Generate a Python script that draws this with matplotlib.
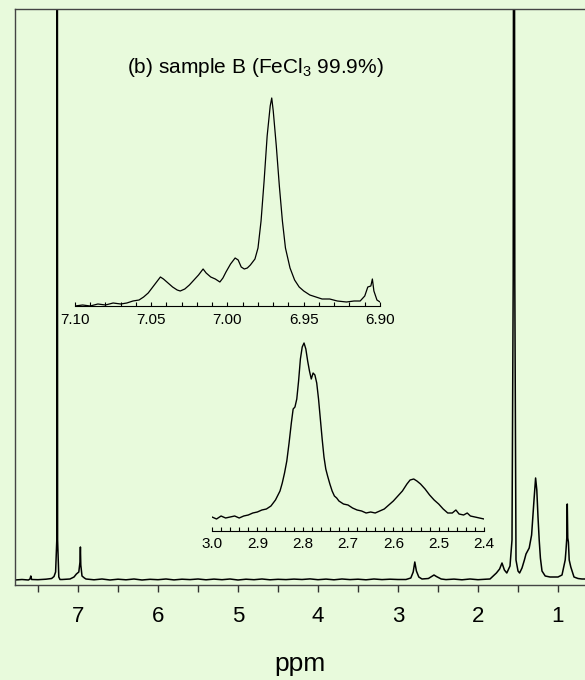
import numpy as np
import matplotlib.pyplot as plt

plt.rcParams['font.family'] = ['Liberation Sans', 'DejaVu Sans']
plt.rcParams['mathtext.default'] = 'regular'

# ------------------------------------------------------------
# data (intensity in arbitrary units)
# ------------------------------------------------------------
main_ppm = [7.79, 7.70, 7.62, 7.60, 7.59, 7.58, 7.50, 7.40, 7.33, 7.30, 7.28,
            7.265, 7.26, 7.255, 7.24, 7.225, 7.20, 7.10, 7.05, 7.02, 6.99,
            6.975, 6.97, 6.965, 6.95, 6.92, 6.90, 6.80, 6.70, 6.60, 6.50,
            6.40, 6.30, 6.20, 6.10, 6.00, 5.90, 5.80, 5.70, 5.60, 5.50,
            5.40, 5.30, 5.20, 5.10, 5.00, 4.90, 4.80, 4.70, 4.60, 4.50,
            4.40, 4.30, 4.20, 4.10, 4.00, 3.90, 3.80, 3.70, 3.60, 3.50,
            3.40, 3.30, 3.20, 3.10, 3.00, 2.90, 2.84, 2.81, 2.79, 2.77,
            2.74, 2.70, 2.62, 2.58, 2.55, 2.52, 2.46, 2.40, 2.30, 2.20,
            2.10, 2.00, 1.90, 1.85, 1.77, 1.73, 1.70, 1.67, 1.64, 1.60,
            1.575, 1.56, 1.55, 1.54, 1.525, 1.50, 1.48, 1.45, 1.42, 1.40,
            1.36, 1.33, 1.30, 1.28, 1.265, 1.25, 1.235, 1.22, 1.20, 1.16,
            1.10, 1.00, 0.95, 0.91, 0.90, 0.89, 0.884, 0.878, 0.87, 0.86,
            0.84, 0.80, 0.75, 0.70, 0.66]
main_int = [0.0, 0.5, 0.0, 1.0, 4.0, 0.5, 0.3, 0.8, 1.5, 3.5, 8.0,
            40.0, 1200.0, 40.0, 3.0, 0.5, 0.5, 1.0, 3.0, 6.0, 8.0,
            18.0, 33.0, 15.0, 4.0, 2.0, 1.0, 0.2, 1.0, 0.0, 0.8,
            0.2, 1.0, 0.0, 0.7, 0.3, 1.0, 0.1, 0.8, 0.4, 1.0,
            0.2, 0.9, 0.3, 1.0, 0.0, 0.8, 0.3, 1.0, 0.2, 0.7,
            0.4, 0.9, 0.5, 1.1, 0.3, 0.9, 0.2, 1.0, 0.4, 0.8,
            0.2, 1.0, 0.4, 0.8, 0.5, 0.5, 2.0, 8.0, 18.0, 9.0,
            3.0, 1.0, 1.5, 3.5, 5.0, 3.5, 1.0, 0.4, 0.9, 0.2,
            1.0, 0.3, 0.8, 1.0, 7.0, 11.0, 17.0, 10.0, 7.0, 14.0,
            40.0, 300.0, 1200.0, 300.0, 20.0, 9.0, 7.0, 12.0, 20.0, 26.0,
            32.0, 45.0, 80.0, 102.0, 90.0, 63.0, 40.0, 22.0, 9.0, 4.0,
            3.0, 3.0, 5.0, 20.0, 30.0, 42.0, 76.0, 42.0, 38.0, 20.0,
            13.0, 3.0, 1.5, 1.0, 1.0]

ins1_ppm = [7.100, 7.095, 7.090, 7.085, 7.080, 7.075, 7.070, 7.066, 7.062,
            7.058, 7.055, 7.052, 7.049, 7.046, 7.044, 7.042, 7.039, 7.036,
            7.033, 7.031, 7.028, 7.025, 7.022, 7.019, 7.016, 7.014, 7.011,
            7.008, 7.005, 7.003, 7.001, 6.998, 6.995, 6.993, 6.991, 6.989,
            6.987, 6.985, 6.982, 6.980, 6.978, 6.976, 6.974, 6.972, 6.971,
            6.970, 6.968, 6.966, 6.964, 6.962, 6.959, 6.956, 6.953, 6.950,
            6.946, 6.942, 6.938, 6.933, 6.928, 6.922, 6.917, 6.913, 6.910,
            6.908, 6.906, 6.905, 6.904, 6.902, 6.900]
ins1_int = [0, 1, 0, 2, 1, 3, 2, 3, 5, 6, 9, 13, 19, 25, 29, 27, 23, 19,
            16, 15, 17, 21, 26, 31, 37, 33, 29, 27, 24, 28, 34, 42, 48, 46,
            39, 37, 38, 41, 47, 58, 85, 125, 170, 200, 208, 195, 160, 120,
            85, 58, 38, 26, 19, 15, 11, 9, 7, 7, 5, 4, 5, 5, 10, 19, 20,
            27, 15, 6, 4]

ins2_ppm = [3.000, 2.990, 2.980, 2.970, 2.960, 2.950, 2.940, 2.930, 2.920,
            2.910, 2.900, 2.890, 2.880, 2.870, 2.860, 2.850, 2.845, 2.840,
            2.835, 2.830, 2.825, 2.821, 2.817, 2.813, 2.809, 2.805, 2.801,
            2.797, 2.793, 2.789, 2.785, 2.781, 2.777, 2.773, 2.769, 2.765,
            2.761, 2.757, 2.753, 2.749, 2.745, 2.740, 2.735, 2.730, 2.725,
            2.720, 2.710, 2.700, 2.690, 2.680, 2.670, 2.660, 2.650, 2.640,
            2.630, 2.620, 2.610, 2.600, 2.590, 2.580, 2.570, 2.563, 2.555,
            2.548, 2.540, 2.530, 2.520, 2.510, 2.500, 2.490, 2.480, 2.470,
            2.462, 2.455, 2.445, 2.437, 2.430, 2.420, 2.410, 2.400]
ins2_int = [14, 12, 15, 13, 14, 15, 13, 15, 16, 18, 19, 21, 22, 25, 31, 40,
            48, 58, 70, 88, 108, 122, 124, 132, 150, 172, 184, 188, 182,
            170, 160, 152, 158, 156, 148, 132, 112, 92, 74, 62, 55, 47, 40,
            35, 33, 30, 27, 26, 23, 21, 20, 18, 19, 18, 20, 22, 26, 30, 35,
            40, 47, 51, 52, 50, 47, 42, 36, 31, 27, 22, 18, 18, 21, 17, 16,
            18, 15, 14, 13, 12]

main_ticks = [7, 6, 5, 4, 3, 2, 1]
ins1_ticks = [7.10, 7.05, 7.00, 6.95, 6.90]
ins2_ticks = [3.0, 2.9, 2.8, 2.7, 2.6, 2.5, 2.4]

title_text = '(b) sample B (FeCl$_3$ 99.9%)'

bg = '#e8fadc'
W, H = 585, 680

fig = plt.figure(figsize=(W / 100, H / 100), dpi=100, facecolor=bg)


def rect(x0, y0, x1, y1):
    # pixel box -> figure fraction
    return [x0 / W, (H - y1) / H, (x1 - x0) / W, (y1 - y0) / H]


# ---------------- main spectrum ----------------
ax = fig.add_axes(rect(15, 9, 585, 585))
ax.set_facecolor(bg)
ax.plot(main_ppm, main_int, color='black', lw=1.1)
ax.set_xlim(7.7875, 0.6625)
ax.set_ylim(-5, 571)
ax.set_xticks(main_ticks)
ax.set_xticks(np.arange(7.5, 0.6, -1.0), minor=True)
ax.set_yticks([])
ax.spines['right'].set_visible(False)
for s in ['left', 'top', 'bottom']:
    ax.spines[s].set_color('#444444')
    ax.spines[s].set_linewidth(1.0)
ax.tick_params(axis='x', which='both', direction='out', length=5, width=1,
               color='#333333', labelsize=16, pad=10)
ax.set_xlabel('ppm', fontsize=19, labelpad=18)

# ---------------- inset 1 : 7.10 - 6.90 ----------------
a1 = fig.add_axes(rect(75, 90, 380, 306))
a1.patch.set_alpha(0)
a1.plot(ins1_ppm, ins1_int, color='black', lw=0.9)
a1.set_xlim(7.10, 6.90)
a1.set_ylim(0, 216)
a1.set_xticks(ins1_ticks)
a1.set_xticklabels(['%.2f' % t for t in ins1_ticks])
a1.set_xticks(np.arange(7.10, 6.895, -0.01), minor=True)
a1.set_yticks([])
for s in ['left', 'right', 'top']:
    a1.spines[s].set_visible(False)
a1.spines['bottom'].set_linewidth(0.8)
a1.tick_params(axis='x', which='both', direction='in', length=3, width=0.8,
               labelsize=11, pad=5)
a1.text(0.59, 1.105, title_text, transform=a1.transAxes, ha='center',
        va='center', fontsize=15)

# ---------------- inset 2 : 3.0 - 2.4 ----------------
a2 = fig.add_axes(rect(212, 330, 484, 531))
a2.patch.set_alpha(0)
a2.plot(ins2_ppm, ins2_int, color='black', lw=1.0)
a2.set_xlim(3.0, 2.4)
a2.set_ylim(0, 201)
a2.set_xticks(ins2_ticks)
a2.set_xticklabels(['%.1f' % t for t in ins2_ticks])
a2.set_xticks(np.arange(3.0, 2.395, -0.02), minor=True)
a2.set_yticks([])
for s in ['left', 'right', 'top']:
    a2.spines[s].set_visible(False)
a2.spines['bottom'].set_linewidth(0.8)
a2.tick_params(axis='x', which='both', direction='in', length=3, width=0.8,
               labelsize=11, pad=4)

fig.savefig('out.png', dpi=100, facecolor=bg)
